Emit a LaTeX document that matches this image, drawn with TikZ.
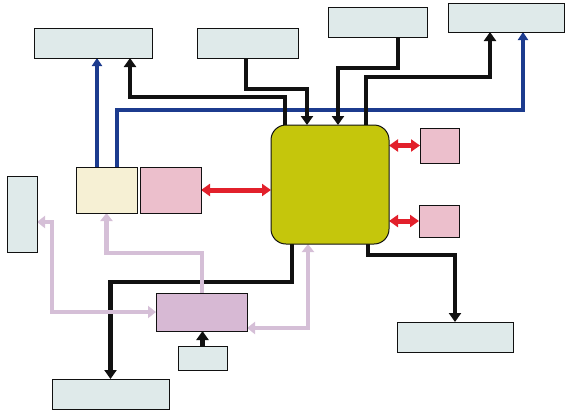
\documentclass[tikz,border=0pt]{standalone}
\usepackage{tikz}
\usetikzlibrary{calc,positioning,arrows.meta,backgrounds}
\definecolor{boxblue}{HTML}{DFEAEA}
\definecolor{boxcream}{HTML}{F6F0D4}
\definecolor{boxpink}{HTML}{ECBFCC}
\definecolor{boxmauve}{HTML}{D7B9D4}
\definecolor{coreyellow}{HTML}{C5C60C}
\definecolor{navy}{HTML}{1C3B8E}
\definecolor{lilac}{HTML}{D5BFD7}
\definecolor{signalred}{HTML}{E2202B}
\definecolor{ink}{HTML}{111111}
\tikzset{
  box/.style={draw=ink, line width=0.8pt, inner sep=0pt, outer sep=0pt},
  iobox/.style={box, fill=boxblue},
  core/.style={box, fill=coreyellow, rounded corners=15pt, line width=1pt},
  bwire/.style={draw=ink, line width=4.6pt, -{Triangle[width=12pt,length=9pt]}},
  nwire/.style={draw=navy, line width=3.8pt, -{Triangle[width=10pt,length=8pt]}},
  pwire/.style={draw=lilac, line width=4.6pt, -{Triangle[width=12pt,length=8pt]}},
  rwire/.style={draw=signalred, line width=5pt, {Triangle[width=12pt,length=9pt]}-{Triangle[width=12pt,length=9pt]}}
}
\begin{document}
\begin{tikzpicture}[x=1pt,y=-1pt]
  \useasboundingbox (0,0) rectangle (567,413);
  % boxes
  \node[iobox, minimum width=118pt, minimum height=30pt] (outA) at (93,43) {};
  \node[iobox, minimum width=101pt, minimum height=30pt] (inB) at (247.5,43) {};
  \node[iobox, minimum width=99pt, minimum height=30pt] (inC) at (377.5,22) {};
  \node[iobox, minimum width=116pt, minimum height=29pt] (outD) at (506,17.5) {};
  \node[iobox, minimum width=30pt, minimum height=76pt] (sideE) at (22,214) {};
  \node[box, fill=boxcream, minimum width=61pt, minimum height=46pt] (ctrl) at (106.5,190) {};
  \node[box, fill=boxpink, minimum width=61pt, minimum height=46pt] (mem) at (170.5,190) {};
  \node[core, minimum width=118pt, minimum height=119pt] (cpu) at (330,184.5) {};
  \node[box, fill=boxpink, minimum width=39pt, minimum height=35pt] (memA) at (439.5,145.5) {};
  \node[box, fill=boxpink, minimum width=40pt, minimum height=32pt] (memB) at (439,221) {};
  \node[box, fill=boxmauve, minimum width=91pt, minimum height=38pt] (unit) at (201.5,312) {};
  \node[iobox, minimum width=49pt, minimum height=24pt] (src) at (202.5,358) {};
  \node[iobox, minimum width=117pt, minimum height=30pt] (outL) at (110.5,394) {};
  \node[iobox, minimum width=116pt, minimum height=30pt] (outM) at (455,337) {};
  % connectors
  \begin{scope}[on background layer]
    \draw[nwire] ([xshift=-9.5pt]ctrl.north) -- ([xshift=-9.5pt]ctrl.north |- outA.south);
    \draw[nwire] ([xshift=10.5pt]ctrl.north) -- ++(0,-57) -| ([xshift=17pt]outD.south);
    \draw[bwire] ([xshift=-45pt]cpu.north) -- ++(0,-28) -| ([xshift=37pt]outA.south);
    \draw[bwire] ([xshift=-1.5pt]inB.south) -- ++(0,31) -| ([xshift=-23pt]cpu.north);
    \draw[bwire] ([xshift=20.5pt]inC.south) -- ++(0,31) -| ([xshift=8pt]cpu.north);
    \draw[bwire] ([xshift=36pt]cpu.north) -- ++(0,-48) -| ([xshift=-16pt]outD.south);
    \draw[bwire] ([xshift=-38pt]cpu.south) -- ++(0,38) -| (outL.north);
    \draw[bwire] ([xshift=38pt]cpu.south) -- ++(0,11) -| (outM.north);
    \draw[bwire] (src.north) -- (src.north |- unit.south);
    \draw[pwire] ([xshift=0.5pt]unit.north) -- ++(0,-40) -| (ctrl.south);
    \draw[pwire, {Triangle[width=12pt,length=8pt]}-{Triangle[width=12pt,length=8pt]}] ([yshift=-8pt]sideE.east) -- ++(15,0) |- (unit.west);
    \draw[pwire, {Triangle[width=12pt,length=8pt]}-{Triangle[width=12pt,length=8pt]}] ([yshift=-16pt]unit.east) -| ([xshift=-22pt]cpu.south);
    \draw[rwire] (mem.east) -- (mem.east -| cpu.west);
    \draw[rwire] (memA.west -| cpu.east) -- (memA.west);
    \draw[rwire] (memB.west -| cpu.east) -- (memB.west);
  \end{scope}
\end{tikzpicture}
\end{document}
